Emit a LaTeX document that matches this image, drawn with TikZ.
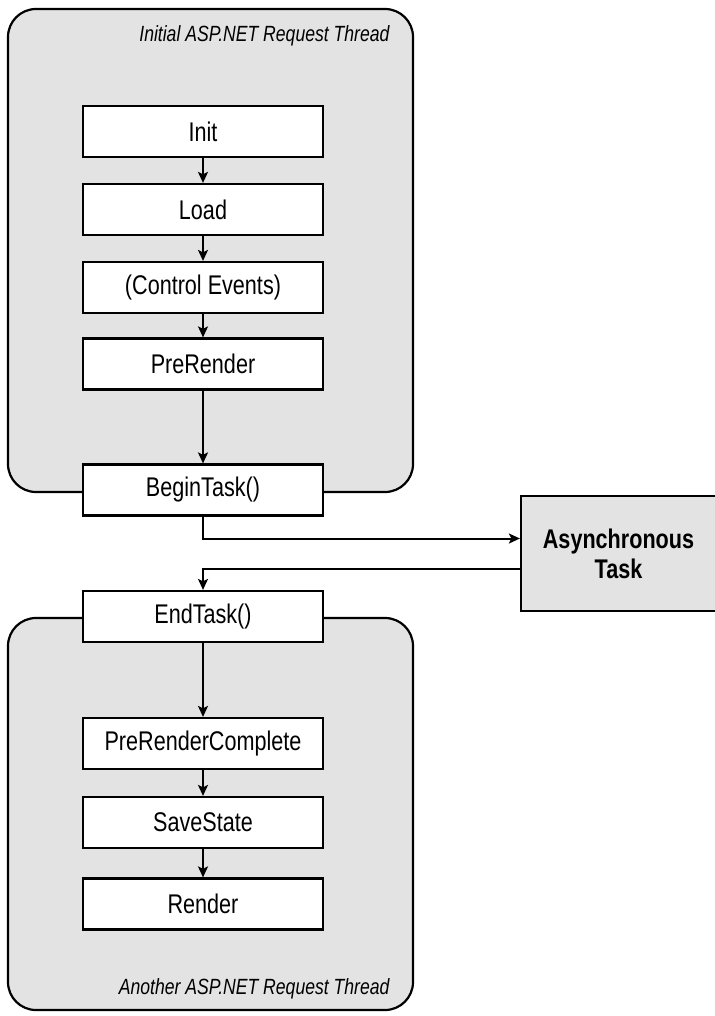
\documentclass[tikz,border=0pt]{standalone}
\usepackage{fontspec}
\setmainfont{Liberation Sans}[FakeStretch=0.8]
\usetikzlibrary{arrows.meta}
\definecolor{threadgray}{gray}{0.89}

\begin{document}
\begin{tikzpicture}[x=1pt,y=-1pt,
  stage/.style={draw=black,line width=2.2pt,fill=white,minimum width=240pt,
    minimum height=51pt,inner sep=0pt,font=\fontsize{27}{29}\selectfont},
  flow/.style={line width=2pt,-{Stealth[length=11pt,width=10pt,inset=2.5pt]}},
  thread/.style={draw=black,line width=2.2pt,fill=threadgray,rounded corners=28pt},
  threadname/.style={anchor=east,font=\fontsize{22}{24}\selectfont\itshape}]
\useasboundingbox (0,0) rectangle (714,1016);
% the two request threads
\draw[thread] (8,9) rectangle (413,492);
\draw[thread] (8,618) rectangle (413,1010);
\node[threadname] (first) at (393,36) {Initial ASP.NET Request Thread};
\node[threadname] (second) at (393,989) {Another ASP.NET Request Thread};

\node[stage] (init) at (203,131.5) {Init};
\node[stage] (load) at (203,209.5) {Load};
\node[stage] (ctrl) at (203,287.5) {(Control Events)};
\node[stage] (prerender) at (203,364) {PreRender};
\node[stage] (begintask) at (203,490) {BeginTask()};
\node[stage] (endtask) at (203,616.5) {EndTask()};
\node[stage] (prc) at (203,743.5) {PreRenderComplete};
\node[stage] (savestate) at (203,822.5) {SaveState};
\node[stage] (render) at (203,904) {Render};

\node[draw=black,line width=2.2pt,fill=threadgray,minimum width=195pt,
  minimum height=115pt,align=center,font=\fontsize{27}{30}\selectfont\bfseries]
  (async) at (618.5,553.5) {Asynchronous\\Task};

\draw[flow] (init) -- (load);
\draw[flow] (load) -- (ctrl);
\draw[flow] (ctrl) -- (prerender);
\draw[flow] (prerender) -- (begintask);
\draw[flow] (begintask.south) |- ([yshift=15pt]async.west);
\draw[flow] ([yshift=-15pt]async.west) -| (endtask.north);
\draw[flow] (endtask) -- (prc);
\draw[flow] (prc) -- (savestate);
\draw[flow] (savestate) -- (render);

\end{tikzpicture}
\end{document}
